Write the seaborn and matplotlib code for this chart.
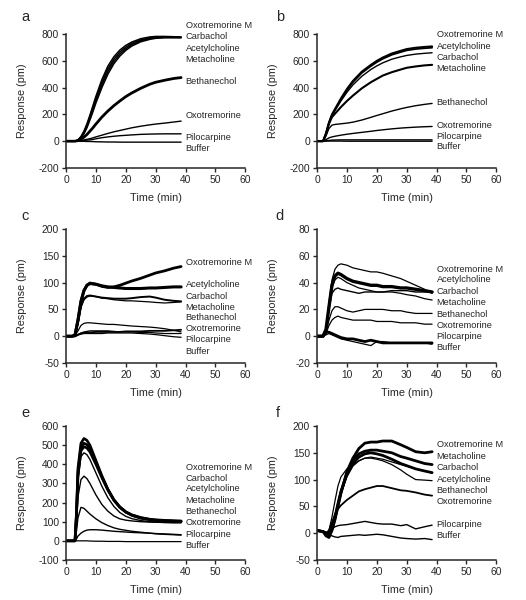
import matplotlib
matplotlib.use("Agg")
import matplotlib.pyplot as plt
import seaborn as sns

# ---- data (response in pm vs time in min) ----

# panel a
a_time = [0, 3, 4, 5, 6, 7, 8, 9, 10, 12, 14, 16, 18, 20, 22, 25, 28, 30, 33, 36, 38.5]
a_oxo_m = [0, 0, 10, 35, 75, 130, 195, 265, 335, 460, 560, 630, 680, 715, 740, 765, 778, 782, 782, 780, 778]
a_carbachol = [0, 0, 8, 30, 68, 120, 183, 250, 318, 440, 540, 612, 665, 702, 730, 757, 772, 777, 778, 777, 776]
a_acetylcholine = [0, 0, 7, 27, 62, 110, 170, 235, 300, 420, 520, 595, 650, 690, 720, 750, 766, 772, 775, 775, 774]
a_metacholine = [0, 0, 6, 24, 55, 100, 158, 220, 285, 400, 500, 578, 635, 678, 710, 742, 760, 768, 772, 772, 772]
a_bethanechol = [0, 0, 5, 15, 30, 50, 75, 100, 128, 180, 225, 265, 300, 333, 360, 395, 425, 440, 455, 468, 475]
a_oxotremorine = [0, 0, 2, 5, 9, 14, 19, 25, 32, 45, 58, 70, 80, 90, 100, 112, 122, 128, 135, 143, 150]
a_pilocarpine = [0, 0, 1, 3, 5, 8, 10, 13, 18, 26, 32, 37, 41, 44, 47, 51, 53, 54, 55, 55, 55]
a_buffer = [0, 0, 0, -1, -1, -2, -2, -3, -4, -5, -6, -6, -7, -7, -7, -7, -7, -7, -7, -7, -7]

# panel b
b_time = [0, 2, 3, 4, 5, 6, 8, 10, 12, 15, 18, 20, 22, 25, 28, 30, 33, 36, 38.5]
b_oxo_m = [0, 0, 60, 140, 200, 240, 320, 390, 450, 520, 570, 600, 625, 655, 675, 688, 698, 704, 708]
b_acetylcholine = [0, 0, 58, 138, 195, 235, 312, 380, 440, 510, 560, 590, 615, 645, 665, 678, 688, 694, 698]
b_carbachol = [0, 0, 55, 135, 190, 228, 300, 365, 420, 485, 535, 562, 585, 612, 630, 640, 650, 656, 660]
b_metacholine = [0, 0, 50, 130, 180, 205, 255, 300, 340, 395, 440, 465, 490, 515, 535, 548, 558, 566, 570]
b_bethanechol = [0, 0, 40, 95, 120, 125, 130, 135, 142, 158, 178, 192, 205, 225, 242, 252, 265, 275, 282]
b_oxotremorine = [0, 0, 12, 25, 32, 37, 45, 52, 58, 66, 74, 80, 85, 92, 98, 101, 105, 108, 110]
b_pilocarpine = [0, 0, 3, 6, 8, 9, 10, 10, 10, 10, 10, 10, 10, 10, 10, 10, 10, 10, 10]
b_buffer = [0, 0, 1, 1, 1, 1, 1, 0, 0, 0, 0, 0, 0, 0, 0, 0, 0, 0, 0]

# panel c
c_time = [0, 2, 3, 4, 5, 6, 7, 8, 10, 12, 14, 16, 18, 20, 22, 25, 28, 30, 33, 36, 38.5]
c_oxo_m = [0, 0, 2, 30, 65, 85, 95, 98, 97, 93, 91, 92, 95, 99, 103, 108, 114, 118, 122, 127, 130]
c_acetylcholine = [0, 0, 2, 30, 65, 85, 95, 99, 97, 94, 92, 91, 90, 89, 89, 89, 90, 90, 91, 92, 92]
c_carbachol = [0, 0, 2, 25, 55, 70, 75, 76, 74, 72, 71, 70, 70, 70, 71, 73, 74, 72, 68, 66, 65]
c_metacholine = [0, 0, 2, 25, 55, 68, 73, 75, 74, 71, 70, 68, 67, 66, 66, 65, 64, 63, 62, 63, 64]
c_bethanechol = [0, 0, 1, 10, 20, 24, 25, 25, 24, 23, 22, 22, 21, 20, 19, 18, 17, 16, 14, 11, 8]
c_oxotremorine = [0, 0, 0, 3, 5, 6, 7, 7, 8, 8, 8, 8, 8, 9, 9, 9, 10, 10, 10, 11, 12]
c_pilocarpine = [0, 0, 0, 3, 6, 8, 9, 10, 10, 10, 10, 9, 8, 8, 8, 7, 7, 6, 5, 5, 5]
c_buffer = [0, -1, -1, 2, 4, 5, 5, 5, 5, 5, 6, 6, 6, 6, 6, 5, 4, 3, 1, -1, -2]

# panel d
d_time = [0, 2, 3, 4, 5, 6, 7, 8, 10, 12, 14, 16, 18, 20, 22, 25, 28, 30, 33, 36, 38.5]
d_oxo_m = [0, 0, 5, 25, 42, 50, 53, 54, 53, 51, 50, 49, 48, 48, 47, 45, 43, 41, 38, 35, 32]
d_acetylcholine = [0, 0, 5, 22, 38, 45, 47, 46, 43, 41, 40, 39, 38, 38, 37, 37, 36, 36, 35, 34, 33]
d_carbachol = [0, 0, 4, 20, 32, 35, 36, 35, 34, 33, 32, 33, 33, 33, 33, 34, 34, 34, 33, 33, 33]
d_metacholine = [0, 0, 4, 22, 36, 42, 44, 43, 40, 38, 36, 35, 34, 33, 33, 33, 32, 31, 30, 28, 27]
d_bethanechol = [0, 0, 3, 12, 19, 22, 22, 21, 19, 18, 19, 20, 20, 20, 20, 19, 19, 18, 17, 17, 17]
d_oxotremorine = [0, 0, 2, 8, 12, 14, 15, 14, 13, 12, 12, 12, 12, 11, 11, 11, 10, 10, 10, 9, 9]
d_pilocarpine = [0, 0, 3, 3, 2, 1, 0, -1, -2, -2, -3, -4, -3, -4, -5, -5, -5, -5, -5, -5, -5]
d_buffer = [0, 0, 1, 2, 1, 0, -1, -2, -3, -4, -5, -6, -7, -4, -4, -5, -5, -5, -5, -5, -6]

# panel e
e_time = [0, 2, 3, 3.5, 4, 5, 6, 7, 8, 10, 12, 14, 16, 18, 20, 22, 25, 28, 30, 33, 36, 38.5]
e_oxo_m = [0, 0, 0, 150, 380, 510, 535, 525, 500, 420, 340, 270, 215, 175, 150, 135, 120, 112, 108, 105, 103, 100]
e_carbachol = [0, 0, 0, 140, 360, 490, 510, 502, 480, 410, 335, 268, 215, 178, 152, 136, 122, 113, 110, 107, 105, 104]
e_acetylcholine = [0, 0, 0, 130, 340, 470, 492, 485, 465, 400, 330, 265, 212, 175, 150, 133, 118, 110, 106, 104, 103, 102]
e_metacholine = [0, 0, 0, 120, 320, 440, 460, 450, 425, 355, 285, 225, 180, 148, 128, 116, 106, 100, 98, 96, 95, 95]
e_bethanechol = [0, 0, 0, 90, 230, 320, 338, 325, 300, 240, 190, 155, 130, 115, 108, 104, 100, 98, 97, 96, 95, 95]
e_oxotremorine = [0, 0, 0, 50, 120, 175, 170, 155, 140, 115, 95, 80, 68, 60, 55, 50, 45, 40, 37, 34, 32, 30]
e_pilocarpine = [0, 0, 0, 10, 25, 40, 50, 56, 58, 58, 56, 53, 50, 48, 46, 44, 42, 40, 38, 36, 34, 32]
e_buffer = [0, 0, 0, 0, 0, 0, 0, 0, -1, -2, -2, -3, -3, -3, -4, -4, -4, -4, -4, -4, -4, -4]

# panel f
f_time = [0, 2, 3, 4, 5, 6, 7, 8, 10, 12, 14, 16, 18, 20, 22, 25, 28, 30, 33, 36, 38.5]
f_oxo_m = [5, 3, -5, -8, 5, 25, 50, 75, 115, 140, 158, 168, 170, 170, 172, 172, 165, 160, 152, 150, 152]
f_metacholine = [5, 3, 0, -3, 8, 28, 52, 75, 112, 135, 148, 153, 155, 155, 153, 150, 143, 140, 135, 130, 128]
f_carbachol = [5, 3, 0, -2, 8, 30, 55, 78, 110, 130, 142, 148, 150, 148, 145, 138, 130, 126, 120, 116, 113]
f_acetylcholine = [5, 3, 0, 5, 30, 60, 88, 105, 120, 128, 135, 140, 140, 138, 135, 128, 118, 110, 100, 99, 98]
f_oxotremorine = [5, 3, 0, -2, 10, 30, 55, 75, 105, 125, 135, 140, 142, 140, 138, 133, 128, 125, 120, 116, 112]
f_bethanechol = [5, 3, 0, 5, 20, 35, 45, 52, 62, 70, 78, 82, 85, 88, 88, 84, 80, 79, 76, 72, 70]
f_pilocarpine = [5, 3, 0, 2, 8, 12, 14, 15, 16, 18, 20, 22, 20, 18, 17, 17, 14, 16, 8, 12, 15]
f_buffer = [5, 3, 2, -3, -5, -7, -8, -6, -5, -4, -3, -4, -3, -2, -3, -6, -9, -10, -11, -10, -12]

# label order (top to bottom) and their heights next to the curves
a_labels = ["Oxotremorine M", "Carbachol", "Acetylcholine", "Metacholine", "Bethanechol", "Oxotremorine", "Pilocarpine", "Buffer"]
b_labels = ["Oxotremorine M", "Acetylcholine", "Carbachol", "Metacholine", "Bethanechol", "Oxotremorine", "Pilocarpine", "Buffer"]
c_labels = b_labels
d_labels = b_labels
e_labels = a_labels
f_labels = ["Oxotremorine M", "Metacholine", "Carbachol", "Acetylcholine", "Bethanechol", "Oxotremorine", "Pilocarpine", "Buffer"]

a_label_y = [865, 780, 693, 608, 447, 193, 25, -57]
b_label_y = [795, 707, 625, 540, 292, 117, 37, -42]
c_label_y = [137, 97, 75, 54, 34, 14, -7, -29]
d_label_y = [50, 42, 33.5, 25.5, 16.5, 8, 0, -8.5]
e_label_y = [385, 327, 271, 213, 154, 94, 35, -23]
f_label_y = [166, 144, 122, 100, 80, 59, 16, -5]

panels = [
    ("a", a_time, [a_oxo_m, a_carbachol, a_acetylcholine, a_metacholine, a_bethanechol, a_oxotremorine, a_pilocarpine, a_buffer],
     [1.1, 1.1, 1.1, 1.1, 2.0, 1.0, 1.0, 1.0], (-200, 800, 200), a_labels, a_label_y),
    ("b", b_time, [b_oxo_m, b_carbachol, b_acetylcholine, b_metacholine, b_bethanechol, b_oxotremorine, b_pilocarpine, b_buffer],
     [1.4, 1.0, 1.3, 1.5, 1.0, 1.0, 1.0, 1.0], (-200, 800, 200), b_labels, b_label_y),
    ("c", c_time, [c_oxo_m, c_carbachol, c_acetylcholine, c_metacholine, c_bethanechol, c_oxotremorine, c_pilocarpine, c_buffer],
     [2.0, 1.4, 2.2, 0.9, 0.9, 1.3, 0.9, 0.9], (-50, 200, 50), c_labels, c_label_y),
    ("d", d_time, [d_oxo_m, d_carbachol, d_acetylcholine, d_metacholine, d_bethanechol, d_oxotremorine, d_pilocarpine, d_buffer],
     [0.9, 1.0, 2.4, 0.9, 0.9, 0.9, 2.0, 0.9], (-20, 80, 20), d_labels, d_label_y),
    ("e", e_time, [e_oxo_m, e_carbachol, e_acetylcholine, e_metacholine, e_bethanechol, e_oxotremorine, e_pilocarpine, e_buffer],
     [1.9, 1.9, 1.9, 1.0, 1.0, 1.0, 1.0, 0.9], (-100, 600, 100), e_labels, e_label_y),
    ("f", f_time, [f_oxo_m, f_carbachol, f_acetylcholine, f_metacholine, f_bethanechol, f_oxotremorine, f_pilocarpine, f_buffer],
     [2.0, 2.0, 0.9, 2.0, 1.3, 0.9, 1.0, 1.0], (-50, 200, 50), f_labels, f_label_y),
]

sns.set_style("ticks")
plt.rcParams["font.family"] = ["Liberation Sans", "DejaVu Sans"]
plt.rcParams["axes.unicode_minus"] = False

fig = plt.figure(figsize=(5.26, 6.0), dpi=100)

lefts = [0.1255, 0.6027]
bottoms = [0.72, 0.395, 0.0667]
w, h = 0.341, 0.2233

for i, (letter, t, curves, widths, (ymin, ymax, ystep), labels, label_y) in enumerate(panels):
    col, row = i % 2, i // 2
    ax = fig.add_axes([lefts[col], bottoms[row], w, h])
    for vals, lw in zip(curves, widths):
        sns.lineplot(x=t, y=vals, ax=ax, color="black", linewidth=lw)
    for lab, ly in zip(labels, label_y):
        ax.text(40, ly, lab, fontsize=6.7, va="center", ha="left", clip_on=False)
    ax.set_xlim(0, 60)
    ax.set_ylim(ymin, ymax)
    ax.set_xticks(range(0, 61, 10))
    ax.set_yticks(range(ymin, ymax + 1, ystep))
    ax.tick_params(direction="out", length=3, width=1, labelsize=7.4, pad=2)
    for s in ("left", "bottom"):
        ax.spines[s].set_linewidth(1.1)
    sns.despine(ax=ax)
    ax.set_xlabel("Time (min)", fontsize=7.8)
    ax.set_ylabel("Response (pm)", fontsize=7.8)
    ax.xaxis.set_label_coords(0.5, -0.19)
    ax.yaxis.set_label_coords(-0.215, 0.5)
    lx = -0.25 if col == 0 else -0.23
    ly_top = 1.13 if row == 0 else 1.10
    ax.text(lx, ly_top, letter, transform=ax.transAxes, fontsize=10.5, va="center", ha="left")

fig.savefig("out.png", dpi=100)
